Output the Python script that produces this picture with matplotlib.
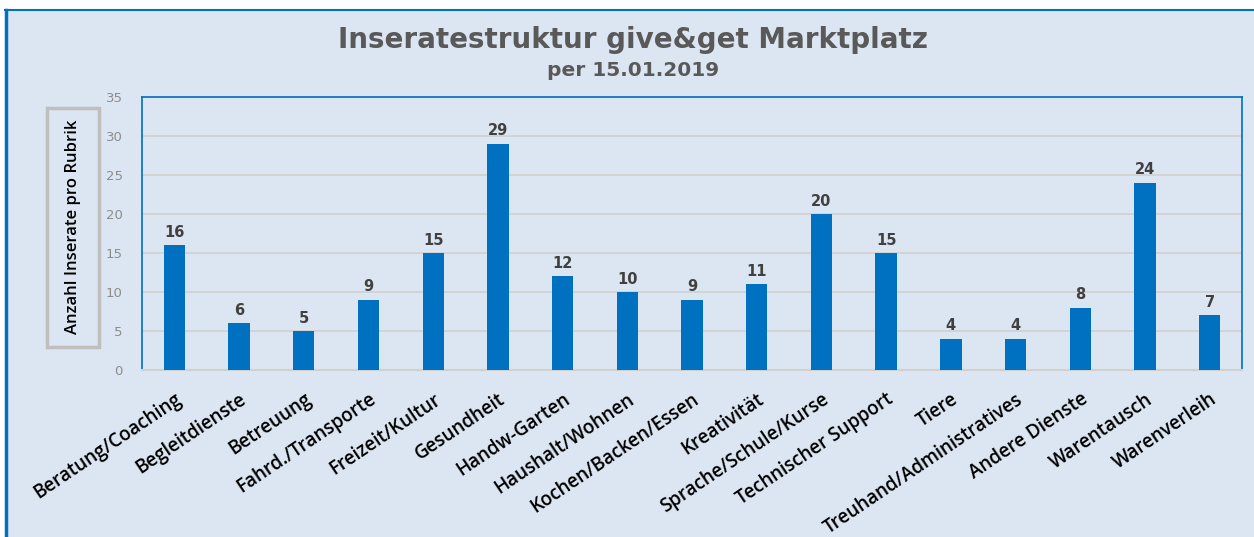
import matplotlib.pyplot as plt
from matplotlib.patches import Rectangle

categories = ['Beratung/Coaching', 'Begleitdienste', 'Betreuung', 'Fahrd./Transporte',
              'Freizeit/Kultur', 'Gesundheit', 'Handw-Garten', 'Haushalt/Wohnen',
              'Kochen/Backen/Essen', 'Kreativität', 'Sprache/Schule/Kurse',
              'Technischer Support', 'Tiere', 'Treuhand/Administratives',
              'Andere Dienste', 'Warentausch', 'Warenverleih']
counts = [16, 6, 5, 9, 15, 29, 12, 10, 9, 11, 20, 15, 4, 4, 8, 24, 7]
yticks = [0, 5, 10, 15, 20, 25, 30, 35]

bg = '#dce6f2'
blue = '#0070c0'

fig = plt.figure(figsize=(12.54, 5.37), dpi=100)
fig.patch.set_facecolor(bg)
# white margin above and left of the chart area, with blue frame lines
fig.patches.append(Rectangle((0, 1 - 10 / 537), 1, 10 / 537,
                             transform=fig.transFigure, facecolor='white',
                             edgecolor='none'))
fig.patches.append(Rectangle((0, 0), 5 / 1254, 1,
                             transform=fig.transFigure, facecolor='white',
                             edgecolor='none'))
fig.add_artist(plt.Line2D([5 / 1254, 1], [1 - 10 / 537, 1 - 10 / 537],
                          transform=fig.transFigure, color=blue, lw=1.5))
fig.add_artist(plt.Line2D([6 / 1254, 6 / 1254], [0, 1 - 10 / 537],
                          transform=fig.transFigure, color=blue, lw=2.5))

ax = fig.add_axes([142 / 1254, 1 - 370 / 537, 1100 / 1254, 273 / 537])
ax.set_facecolor(bg)
x = range(len(categories))
ax.bar(x, counts, width=0.33, color=blue, zorder=3)
for xi, v in zip(x, counts):
    ax.text(xi, v + 0.7, str(v), ha='center', va='bottom', fontsize=10.5,
            fontweight='bold', color='#404040', family='DejaVu Sans')

ax.set_xlim(-0.5, len(categories) - 0.5)
ax.set_ylim(0, 35)
ax.set_yticks(yticks)
ax.set_yticklabels([str(t) for t in yticks], color='#8c8c8c', fontsize=9.5)
ax.yaxis.grid(True, color='#d0d0d0', lw=1.2, zorder=0)
ax.tick_params(axis='both', length=0)
ax.tick_params(axis='y', pad=14)
ax.set_xticks(list(x))
ax.set_xticklabels(categories, rotation=34, ha='right', rotation_mode='anchor',
                   fontsize=13.5, fontweight='semibold', family='Open Sans', color='black')
ax.tick_params(axis='x', pad=14)
for s in ['left', 'top', 'right']:
    ax.spines[s].set_color(blue)
    ax.spines[s].set_linewidth(1.2)
ax.spines['bottom'].set_color('#d0d0d0')
ax.spines['bottom'].set_linewidth(1.5)

fig.text(633 / 1254, 1 - 40 / 537, 'Inseratestruktur give&get Marktplatz',
         ha='center', va='center', fontsize=20, fontweight='bold',
         color='#595959', family='DejaVu Sans')
fig.text(633 / 1254, 1 - 70 / 537, 'per 15.01.2019', ha='center', va='center',
         fontsize=14.5, fontweight='bold', color='#595959', family='DejaVu Sans')

# boxed y-axis label
fig.patches.append(Rectangle((47 / 1254, 1 - 347 / 537), 52 / 1254, 239 / 537,
                             transform=fig.transFigure, facecolor=bg,
                             edgecolor='#bfbfbf', lw=2.5))
fig.text(73 / 1254, 1 - 227 / 537, 'Anzahl Inserate pro Rubrik', rotation=90,
         ha='center', va='center', fontsize=12, fontweight='semibold',
         color='black', family='Open Sans')

fig.savefig('out.png', dpi=100, facecolor=fig.get_facecolor())
